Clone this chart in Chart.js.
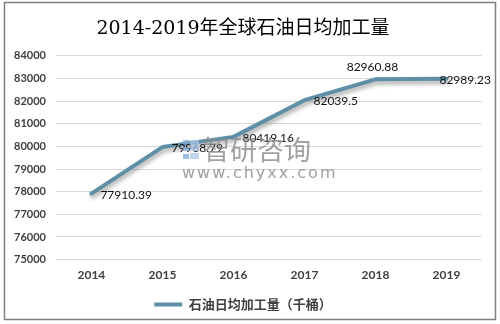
<!DOCTYPE html>
<html>
<head>
<meta charset="utf-8">
<script src="https://cdn.jsdelivr.net/npm/chart.js@4.4.1/dist/chart.umd.min.js"></script>
<style>
  html, body { margin: 0; padding: 0; background: #fff; }
  #wrap { position: relative; width: 500px; height: 324px; }
</style>
</head>
<body>
<div id="wrap"><canvas id="oilChart" width="500" height="324"></canvas></div>
<script>
// 2014-2019 global refinery throughput, thousand barrels per day
const years = ['2014', '2015', '2016', '2017', '2018', '2019'];
const throughput = [77910.39, 79968.79, 80419.16, 82039.5, 82960.88, 82989.23];
const seriesName = '石油日均加工量（千桶）';
const chartTitle = '2014-2019年全球石油日均加工量';

const LINE_COLOR = '#5f8fa6';
const TEXT_COLOR = '#404040';

// where each value label sits relative to its point
const labelSide = ['right', 'right', 'right', 'right', 'top', 'right'];

/* ---- drop shadow under the line ---- */
const lineShadow = {
    id: 'lineShadow',
    beforeDatasetDraw(chart) {
        const ctx = chart.ctx;
        ctx.save();
        ctx.shadowColor = 'rgba(0,0,0,0.35)';
        ctx.shadowBlur = 4;
        ctx.shadowOffsetX = 1;
        ctx.shadowOffsetY = 3;
    },
    afterDatasetDraw(chart) {
        chart.ctx.restore();
    }
};

/* ---- value labels next to the points ---- */
const valueLabels = {
    id: 'valueLabels',
    afterDatasetsDraw(chart) {
        const ctx = chart.ctx;
        const meta = chart.getDatasetMeta(0);
        const values = chart.data.datasets[0].data;
        ctx.save();
        ctx.font = '12px Lato, "Liberation Sans", sans-serif';
        ctx.fillStyle = '#111';
        ctx.textBaseline = 'middle';
        meta.data.forEach((pt, i) => {
            const txt = String(values[i]);
            const w = ctx.measureText(txt).width;
            let x, y;
            if (labelSide[i] === 'top') {
                x = pt.x - w / 2 - 3;
                y = pt.y - 12;
            } else {
                x = pt.x + 9;
                y = pt.y + 1;
            }
            // keep inside the frame
            if (x + w > chart.width - 9) x = chart.width - 9 - w;
            ctx.textAlign = 'left';
            ctx.fillText(txt, x, y);
        });
        ctx.restore();
    }
};

/* ---- frame and watermark ---- */
const frameAndMark = {
    id: 'frameAndMark',
    afterDraw(chart) {
        const ctx = chart.ctx;
        ctx.save();
        // watermark logo blocks
        ctx.globalAlpha = 0.75;
        ctx.fillStyle = '#7fa9d6';
        ctx.fillRect(183, 140, 6, 4);
        ctx.fillRect(183, 147, 6, 4);
        ctx.fillRect(183, 154, 6, 5);
        ctx.fillStyle = '#a9c8e8';
        ctx.fillRect(190, 140, 9, 11);
        ctx.fillRect(190, 153, 9, 6);
        // watermark text
        ctx.globalAlpha = 0.8;
        ctx.fillStyle = '#8a8a8a';
        ctx.textBaseline = 'middle';
        ctx.textAlign = 'left';
        ctx.font = '27px "Noto Sans CJK SC", sans-serif';
        ctx.fillText('智研咨询', 203, 150);
        ctx.font = '16px "DejaVu Sans", sans-serif';
        ctx.letterSpacing = '2px';
        ctx.fillText('www.chyxx.com', 182, 174);
        ctx.restore();

        ctx.save();
        ctx.strokeStyle = '#7f7f7f';
        ctx.lineWidth = 1.5;
        ctx.strokeRect(4.5, 2.5, 491, 317);
        ctx.restore();
    }
};

new Chart(document.getElementById('oilChart'), {
    type: 'line',
    data: {
        labels: years,
        datasets: [{
            label: seriesName,
            data: throughput,
            borderColor: LINE_COLOR,
            backgroundColor: LINE_COLOR,
            borderWidth: 4,
            borderCapStyle: 'round',
            borderJoinStyle: 'round',
            tension: 0,
            pointRadius: 0,
            pointHoverRadius: 0,
            fill: false
        }]
    },
    options: {
        responsive: false,
        animation: false,
        devicePixelRatio: 1,
        layout: { padding: { left: 4, right: 18, top: 8, bottom: 3 } },
        plugins: {
            title: {
                display: true,
                text: chartTitle,
                color: '#000',
                font: { family: '"DejaVu Serif", "Noto Sans CJK SC", serif', size: 19, weight: 'normal' },
                padding: { top: 10, bottom: 15 }
            },
            legend: {
                position: 'bottom',
                labels: {
                    color: TEXT_COLOR,
                    font: { family: '"Noto Sans CJK SC", sans-serif', size: 13, weight: 'bold' },
                    usePointStyle: true,
                    pointStyle: 'line',
                    pointStyleWidth: 28,
                    boxHeight: 13,
                    padding: 8
                }
            },
            tooltip: { enabled: false }
        },
        scales: {
            x: {
                offset: true,
                grid: { display: false, drawTicks: false },
                border: { display: false },
                ticks: {
                    color: TEXT_COLOR,
                    font: { family: 'Lato, sans-serif', size: 12, weight: 'bold' },
                    padding: 8
                }
            },
            y: {
                min: 75000,
                max: 84000,
                grid: { color: '#d9d9d9', lineWidth: 1, drawTicks: false },
                border: { display: false },
                ticks: {
                    stepSize: 1000,
                    color: TEXT_COLOR,
                    font: { family: 'Lato, sans-serif', size: 11, weight: 'bold' },
                    padding: 10,
                    callback: (v) => String(v)
                }
            }
        }
    },
    plugins: [lineShadow, valueLabels, frameAndMark]
});
</script>
</body>
</html>
